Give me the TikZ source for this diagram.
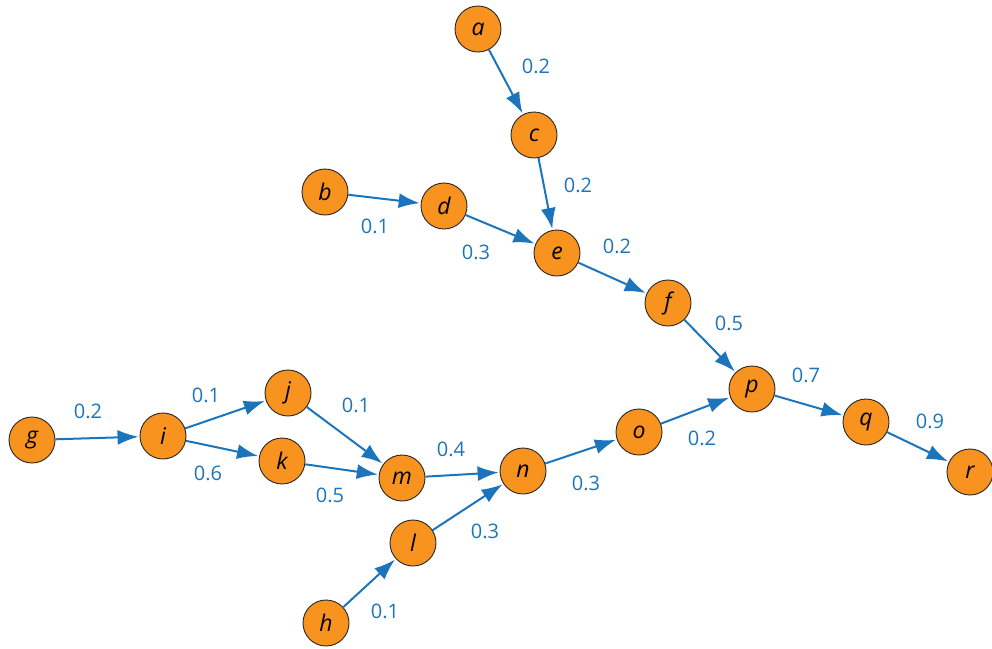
\documentclass[tikz,border=0pt]{standalone}
\usepackage{fontspec}
\setmainfont{Open Sans}
\usetikzlibrary{arrows.meta}
\definecolor{nodeorange}{HTML}{F7931E}
\definecolor{edgeblue}{HTML}{1C75BC}
\begin{document}
\begin{tikzpicture}[x=1pt,y=-1pt,
  vtx/.style={circle,draw=black!85,line width=0.9pt,fill=nodeorange,minimum size=46pt,inner sep=0pt,font=\fontsize{23}{23}\selectfont\itshape},
  edge/.style={draw=edgeblue,line width=2pt,-{Latex[length=21pt,width=15pt]},shorten >=1pt},
  wt/.style={text=edgeblue,font=\fontsize{20}{20}\selectfont}]
\useasboundingbox (0,0) rectangle (992,648);
\node[vtx] (a) at (478,29) {a};
\node[vtx] (c) at (534,135) {c};
\node[vtx] (b) at (325,192) {b};
\node[vtx] (d) at (444,206) {d};
\node[vtx] (e) at (557,253) {e};
\node[vtx] (f) at (668,303) {f};
\node[vtx] (p) at (752,389) {p};
\node[vtx] (q) at (866,422) {q};
\node[vtx] (r) at (970,472) {r};
\node[vtx] (g) at (32,440) {g};
\node[vtx] (i) at (163,436) {i};
\node[vtx] (j) at (288,393) {j};
\node[vtx] (k) at (282,461) {k};
\node[vtx] (m) at (402,478) {m};
\node[vtx] (n) at (523,471) {n};
\node[vtx] (o) at (639,432) {o};
\node[vtx] (l) at (413,543) {l};
\node[vtx] (h) at (326,623) {h};
\draw[edge] (a) -- (c);
\draw[edge] (c) -- (e);
\draw[edge] (b) -- (d);
\draw[edge] (d) -- (e);
\draw[edge] (e) -- (f);
\draw[edge] (f) -- (p);
\draw[edge] (p) -- (q);
\draw[edge] (q) -- (r);
\draw[edge] (g) -- (i);
\draw[edge] (i) -- (j);
\draw[edge] (i) -- (k);
\draw[edge] (j) -- (m);
\draw[edge] (k) -- (m);
\draw[edge] (m) -- (n);
\draw[edge] (l) -- (n);
\draw[edge] (h) -- (l);
\draw[edge] (n) -- (o);
\draw[edge] (o) -- (p);
\node[wt] (w1) at (536,66) {0.2};
\node[wt] (w2) at (578,185) {0.2};
\node[wt] (w3) at (375,226) {0.1};
\node[wt] (w4) at (476,252) {0.3};
\node[wt] (w5) at (617,246) {0.2};
\node[wt] (w6) at (729,323) {0.5};
\node[wt] (w7) at (88,411) {0.2};
\node[wt] (w8) at (206,395) {0.1};
\node[wt] (w9) at (208,473) {0.6};
\node[wt] (w10) at (356,405) {0.1};
\node[wt] (w11) at (330,495) {0.5};
\node[wt] (w12) at (451,449) {0.4};
\node[wt] (w13) at (485,531) {0.3};
\node[wt] (w14) at (385,611) {0.1};
\node[wt] (w15) at (586,483) {0.3};
\node[wt] (w16) at (702,438) {0.2};
\node[wt] (w17) at (806,375) {0.7};
\node[wt] (w18) at (930,421) {0.9};
\end{tikzpicture}
\end{document}
